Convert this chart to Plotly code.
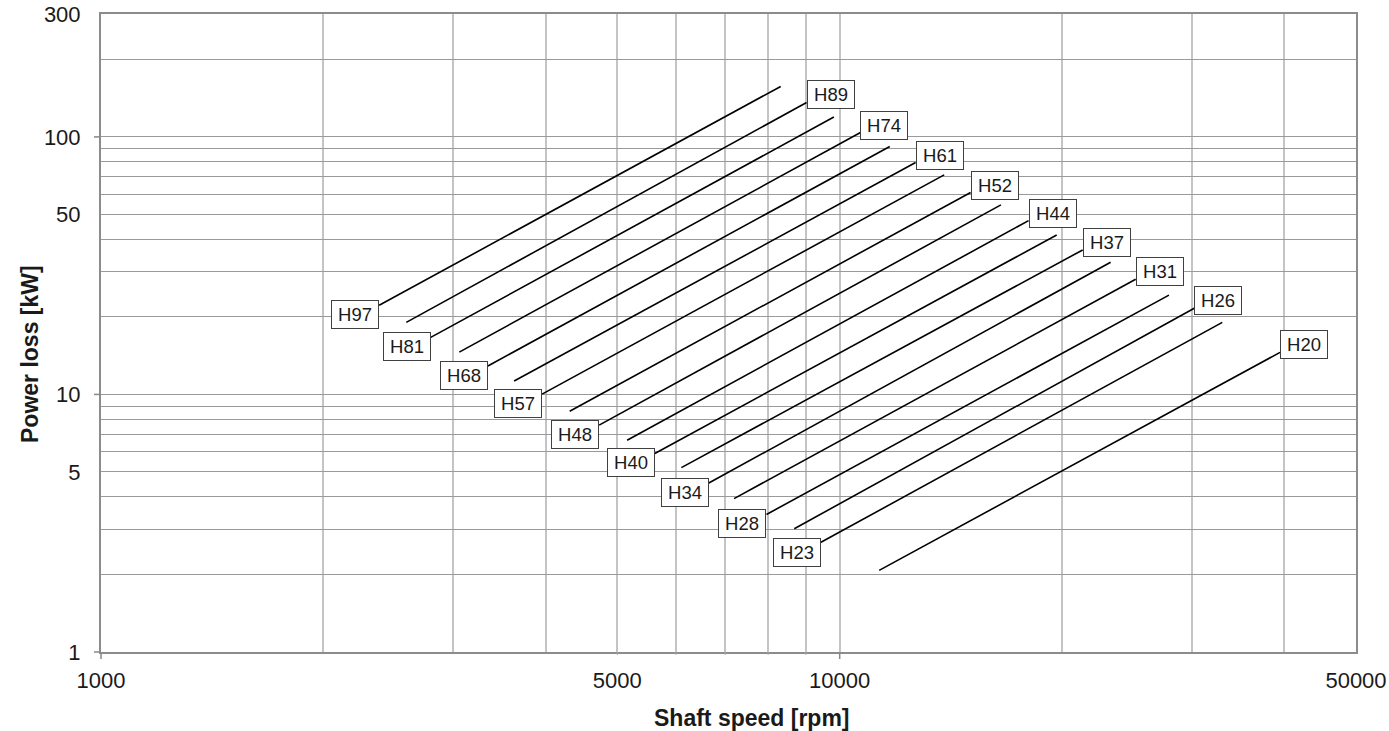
import math
import plotly.graph_objects as go

# ---------------- data ----------------
names = ["H97", "H89", "H81", "H74", "H68", "H61", "H57", "H52", "H48",
         "H44", "H40", "H37", "H34", "H31", "H28", "H26", "H23", "H20"]
speed_lo = [2380, 2590, 2795, 3055, 3340, 3625, 3955, 4310, 4725,
            5155, 5620, 6105, 6650, 7195, 7960, 8680, 9420, 11310]
loss_lo = [22.2, 19.05, 16.65, 14.6, 12.9, 11.27, 10.03, 8.61, 7.60,
           6.64, 5.90, 5.20, 4.53, 3.94, 3.42, 3.01, 2.66, 2.075]
speed_hi = [8320, 9020, 9820, 10670, 11690, 12670, 13850, 15040, 16530,
            18020, 19670, 21330, 23270, 25160, 27910, 30200, 32960, 39460]
loss_hi = [157, 136, 119.4, 104, 91.8, 79.5, 71.2, 60.8, 54.45,
           47.3, 41.6, 36.4, 32.6, 28.0, 24.3, 21.6, 19.05, 14.57]
label_end = ["lo", "hi", "lo", "hi", "lo", "hi", "lo", "hi", "lo",
             "hi", "lo", "hi", "lo", "hi", "lo", "hi", "lo", "hi"]

x_ticks = [1000, 5000, 10000, 50000]
y_ticks = [1, 5, 10, 50, 100, 300]
x_grid = [2000, 3000, 4000, 5000, 6000, 7000, 8000, 9000, 10000, 20000, 30000, 40000]
y_grid = [2, 3, 4, 5, 6, 7, 8, 9, 10, 20, 30, 40, 50, 60, 70, 80, 90, 100, 200]
x_decade_ticks = [1000, 10000]
x_small_ticks = [5000, 6000, 7000, 8000, 9000]
y_decade_ticks = [1, 10, 100]
x_range = [1000, 50000]
y_range = [1, 300]

FONT = "Liberation Sans, Arial, sans-serif"
TXT = "#1a1a1a"

fig = go.Figure()
for i, n in enumerate(names):
    fig.add_trace(go.Scatter(
        x=[speed_lo[i], speed_hi[i]], y=[loss_lo[i], loss_hi[i]],
        mode="lines", line=dict(color="black", width=1.6),
        name=n, showlegend=False, hoverinfo="name"))

annotations = []
for i, n in enumerate(names):
    if label_end[i] == "lo":
        ax_, ay_ = speed_lo[i], loss_lo[i]
        xa, ya, ys = "right", "top", 5
    else:
        ax_, ay_ = speed_hi[i], loss_hi[i]
        xa, ya, ys = "left", "bottom", -7
    annotations.append(dict(
        x=math.log10(ax_), y=math.log10(ay_), xref="x", yref="y",
        text=n, showarrow=False, xanchor=xa, yanchor=ya, yshift=ys,
        font=dict(family=FONT, size=18.5, color=TXT),
        bgcolor="white", bordercolor="#404040", borderwidth=1, borderpad=1,
        width=44, height=25, align="center", valign="middle"))

annotations.append(dict(
    text="<b>Shaft speed [rpm]</b>", xref="paper", yref="paper", x=0.5, y=0,
    xanchor="center", yanchor="middle", xshift=23, yshift=-66, showarrow=False,
    font=dict(family=FONT, size=23, color=TXT)))
annotations.append(dict(
    text="<b>Power loss [kW]</b>", xref="paper", yref="paper", x=0, y=0.5,
    xanchor="center", yanchor="middle", xshift=-71, yshift=-21, textangle=-90,
    showarrow=False, font=dict(family=FONT, size=23, color=TXT)))

lx0, lx1 = math.log10(x_range[0]), math.log10(x_range[1])
ly0, ly1 = math.log10(y_range[0]), math.log10(y_range[1])
shapes = []
for v in x_decade_ticks:
    f = (math.log10(v) - lx0) / (lx1 - lx0)
    shapes.append(dict(type="line", xref="x domain", yref="y domain",
                       x0=f, x1=f, y0=0, y1=-7 / 637.0,
                       line=dict(color="#888888", width=1.5)))
for v in x_small_ticks:
    f = (math.log10(v) - lx0) / (lx1 - lx0)
    shapes.append(dict(type="line", xref="x domain", yref="y domain",
                       x0=f, x1=f, y0=0, y1=-3 / 637.0,
                       line=dict(color="#aaaaaa", width=1)))
for v in y_decade_ticks:
    f = (math.log10(v) - ly0) / (ly1 - ly0)
    shapes.append(dict(type="line", xref="x domain", yref="y domain",
                       y0=f, y1=f, x0=0, x1=-7 / 1255.0,
                       line=dict(color="#888888", width=1.5)))

fig.update_layout(
    width=1389, height=731,
    margin=dict(l=101, r=33, t=14, b=79, pad=0),
    paper_bgcolor="white", plot_bgcolor="white",
    font=dict(family=FONT, size=22, color=TXT),
    annotations=annotations, shapes=shapes,
    xaxis=dict(
        type="log", range=[lx0, lx1], automargin=False,
        tickmode="array", tickvals=x_ticks, ticktext=[str(v) for v in x_ticks],
        ticks="", showgrid=False, zeroline=False,
        showline=True, linecolor="#8c8c8c", linewidth=2, mirror=True,
        tickfont=dict(family=FONT, size=22, color=TXT),
        ticklabelstandoff=8,
        minor=dict(tickmode="array", tickvals=x_grid, showgrid=True,
                   gridcolor="#c4c4c4", gridwidth=1.5, ticks=""),
    ),
    yaxis=dict(
        type="log", range=[ly0, ly1], automargin=False,
        tickmode="array", tickvals=y_ticks, ticktext=[str(v) for v in y_ticks],
        ticks="", showgrid=False, zeroline=False,
        showline=True, linecolor="#8c8c8c", linewidth=2, mirror=True,
        tickfont=dict(family=FONT, size=22, color=TXT),
        ticklabelstandoff=14,
        minor=dict(tickmode="array", tickvals=y_grid, showgrid=True,
                   gridcolor="#9a9a9a", gridwidth=1, ticks=""),
    ),
)

fig.write_html("out.html")
